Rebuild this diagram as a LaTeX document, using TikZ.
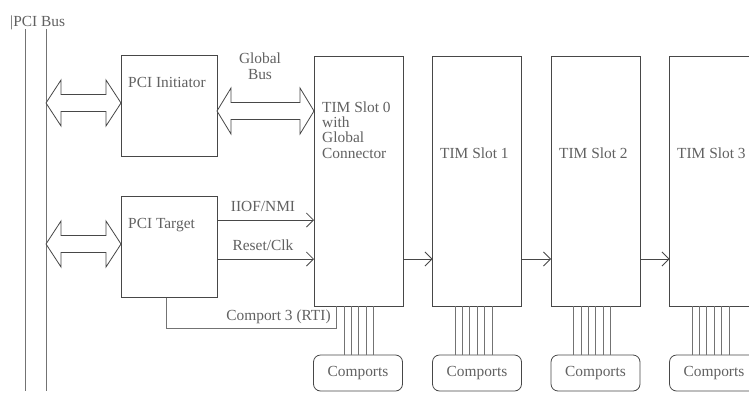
\documentclass[tikz,border=0pt]{standalone}
\usepackage{fontspec}
\setmainfont{Liberation Serif}
\usetikzlibrary{arrows.meta,calc}
\definecolor{ln}{gray}{0.28}
\definecolor{wr}{gray}{0.45}
\definecolor{tx}{gray}{0.38}
\newcommand\hollowarrow[3]{% #1 left point, #2 right point, #3 head length
  \draw[busarrow] let \p1=(#1), \p2=(#2) in
    (\x1,\y1) -- (\x1+#3,\y1+23pt) -- (\x1+#3,\y1+8.5pt) -- (\x2-#3,\y1+8.5pt)
    -- (\x2-#3,\y1+23pt) -- (\x2,\y1) -- (\x2-#3,\y1-23pt) -- (\x2-#3,\y1-8.5pt)
    -- (\x1+#3,\y1-8.5pt) -- (\x1+#3,\y1-23pt) -- cycle;}
\begin{document}
\begin{tikzpicture}[x=1pt,y=-1pt,
  blk/.style={draw=ln, line width=0.8pt, inner sep=0pt, outer sep=0pt},
  slotbox/.style={blk, minimum width=89pt, minimum height=250pt},
  pcibox/.style={blk, minimum width=96pt, minimum height=101pt},
  comp/.style={blk, rounded corners=7pt, minimum width=89pt, minimum height=36pt,
    text=tx, font=\fontsize{15.4}{15.3}\selectfont},
  lbl/.style={text=tx, inner sep=0pt, font=\fontsize{15.4}{15.3}\selectfont},
  sig/.style={draw=ln, line width=0.8pt, -{Straight Barb[length=7pt,width=14pt]}},
  wire/.style={draw=wr, line width=0.8pt},
  busline/.style={draw=wr, line width=0.9pt},
  busarrow/.style={draw=ln, line width=0.8pt, fill=white, line join=miter}]
\clip (0,0) rectangle (749,394);
\fill[white] (0,0) rectangle (749,394);

% PCI bus
\node[lbl, anchor=base west] (buslbl) at (10,26) {|PCI Bus};
\coordinate (busLt) at (25,29);
\coordinate (busLb) at (25,391);
\coordinate (busRt) at (46,29);
\coordinate (busRb) at (46,391);
\draw[busline] (busLt) -- (busLb);
\draw[busline] (busRt) -- (busRb);

% PCI boxes
\node[pcibox] (init) at (169,106.3) {};
\node[pcibox] (target) at (169,247) {};
\node[lbl, anchor=base west] (initt) at (128,87) {PCI Initiator};
\node[lbl, anchor=base west] (targett) at (128,228) {PCI Target};

% TIM slots
\node[slotbox] (slot0) at (358.5,181) {};
\node[slotbox] (slot1) at (477,181) {};
\node[slotbox] (slot2) at (595.5,181) {};
\node[slotbox] (slot3) at (714,181) {};
\node[lbl, anchor=base west, align=left] (slot0t) at (322,158)
  {TIM Slot 0\\with\\Global\\Connector};
\node[lbl, anchor=base west] (slot1t) at (440,158) {TIM Slot 1};
\node[lbl, anchor=base west] (slot2t) at (559,158) {TIM Slot 2};
\node[lbl, anchor=base west] (slot3t) at (677,158) {TIM Slot 3};

% Comports boxes
\foreach \i/\x in {0/358,1/477,2/595.5,3/714}{
  \node[comp] (cp\i) at (\x,373) {Comports};
}

% comport wires
\foreach \i in {0,1,2,3}{
  \foreach \k in {1,...,5}{
    \draw[wire] ($(slot\i.south west)+(22.5+7.4*\k,0)$) coordinate (w) -- (w |- cp\i.north);
  }
}
\foreach \i in {1,2,3}{
  \draw[wire] ($(slot\i.south west)+(22.5,0)$) coordinate (w) -- (w |- cp\i.north);
}
% Comport 3 (RTI)
\draw[wire] ($(slot0.south west)+(22.5,0)$) -- ++(0,22) -| ([xshift=-3pt]target.south);
\node[lbl, anchor=base] (rtil) at (278.5,320) {Comport 3 (RTI)};

% hollow bus arrows
\coordinate (a1) at (0,103);
\coordinate (a2) at (0,244);
\coordinate (a3) at (0,111);
\hollowarrow{busRt |- a1}{init.west |- a1}{15pt}
\hollowarrow{busRt |- a2}{target.west |- a2}{15pt}
\hollowarrow{init.east |- a3}{slot0.west |- a3}{14pt}
\node[lbl, anchor=base, align=center] (gbl) at (260,79) {Global\\Bus};

% signal arrows
\coordinate (r1) at (0,220);
\coordinate (r2) at (0,259);
\draw[sig] (target.east |- r1) -- (slot0.west |- r1);
\draw[sig] (target.east |- r2) -- (slot0.west |- r2);
\node[lbl, anchor=base] (iiof) at (263,211) {IIOF/NMI};
\node[lbl, anchor=base] (rst) at (263,250) {Reset/Clk};
\draw[sig] (slot0.east |- r2) -- (slot1.west |- r2);
\draw[sig] (slot1.east |- r2) -- (slot2.west |- r2);
\draw[sig] (slot2.east |- r2) -- (slot3.west |- r2);
\end{tikzpicture}
\end{document}
